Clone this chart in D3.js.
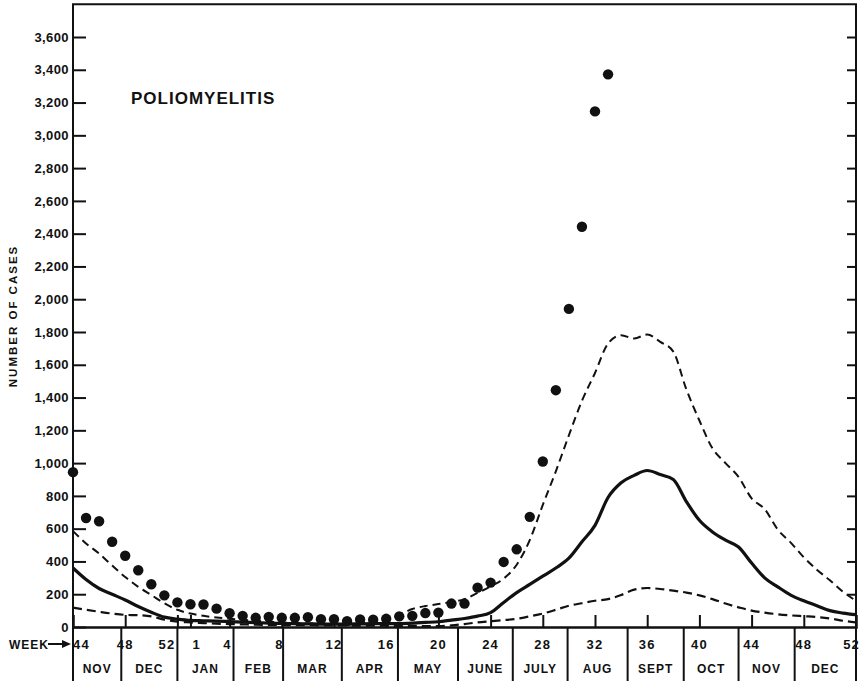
<!DOCTYPE html>
<html>
<head>
<meta charset="utf-8">
<script src="https://cdn.jsdelivr.net/npm/d3@7"></script>
<style>
  body { margin: 0; background: #fff; }
  text { font-family: "Liberation Sans", Arial, sans-serif; font-weight: bold; fill: #111; }
</style>
</head>
<body>
<div id="chart"></div>
<script>
/* Poliomyelitis weekly cases, week 44 to week 52 of the next year */

// week index 0 = week 44 of first year, 60 = week 52 of second year
const weekLabels = ["44", "48", "52", "1", "4", "8", "12", "16", "20", "24", "28", "32", "36", "40", "44", "48", "52"];
const weekLabelIdx = [0, 4, 8, 9, 12, 16, 20, 24, 28, 32, 36, 40, 44, 48, 52, 56, 60];
const months = ["NOV", "DEC", "JAN", "FEB", "MAR", "APR", "MAY", "JUNE", "JULY", "AUG", "SEPT", "OCT", "NOV", "DEC"];
const monthEdges = [0, 3.7, 8, 12.3, 16.1, 20.6, 24.9, 29.5, 33.7, 37.9, 42.5, 46.8, 51, 55.3, 60];
const yTickValues = [0, 200, 400, 600, 800, 1000, 1200, 1400, 1600, 1800, 2000, 2200, 2400, 2600, 2800, 3000, 3200, 3400, 3600];

// upper dashed curve
const upper = [585, 510, 448, 375, 305, 245, 195, 145, 105, 82,
               68, 58, 50, 44, 38, 32, 28, 24, 22, 20,
               20, 22, 25, 38, 55, 75, 110, 128, 140, 152,
               170, 208, 248, 295, 380, 530, 745, 950, 1170, 1380,
               1550, 1730, 1780, 1760, 1785, 1740, 1680, 1450, 1260, 1090,
               1000, 916, 785, 720, 595, 515, 425, 350, 285, 215, 160];
// solid (median) curve
const median = [360, 290, 235, 200, 165, 125, 90, 60, 48, 40,
                38, 36, 33, 30, 27, 24, 22, 20, 19, 18,
                18, 18, 19, 20, 20, 21, 24, 28, 32, 42,
                52, 66, 88, 150, 210, 260, 310, 360, 420, 520,
                620, 790, 880, 925, 955, 930, 900, 765, 651, 580,
                530, 488, 390, 300, 245, 195, 160, 130, 100, 85, 75];
// lower dashed curve
const lower = [118, 105, 93, 82, 74, 72, 65, 45, 33, 28,
               24, 20, 18, 16, 14, 13, 12, 12, 11, 10,
               10, 9, 9, 8, 8, 7, 7, 6, 6, 10,
               18, 28, 35, 42, 50, 65, 82, 105, 130, 145,
               160, 170, 195, 228, 238, 232, 222, 210, 193, 170,
               143, 120, 100, 88, 78, 71, 66, 61, 52, 38, 28];
// current year, dots (week 44 .. week 33)
const current = [945, 665, 645, 520, 435, 346, 261, 193, 150, 139,
                 137, 112, 84, 68, 56, 62, 56, 56, 60, 48,
                 48, 36, 46, 45, 50, 65, 68, 85, 88, 143,
                 143, 240, 271, 397, 474, 672, 1010, 1445, 1941, 2442,
                 3146, 3372];

const width = 866, height = 683,
      margin = ({top: 4, right: 10, bottom: 56, left: 73});

const svg = d3.select("#chart")
    .append("svg")
    .attr("width", width)
    .attr("height", height)
    .attr("viewBox", [0, 0, width, height]);

svg.append("rect").attr("width", width).attr("height", height).attr("fill", "#fff");

let x = d3.scaleLinear()
    .domain([0, 60])
    .range([margin.left, width - margin.right]);

let y = d3.scaleLinear()
    .domain([0, 3600])
    .range([height - margin.bottom, 37]);

const base = y(0);
const frameTop = y(3800);

// frame
svg.append("path")
    .attr("d", `M${x(0)},${base}V${frameTop}H${x(60)}V${base}`)
    .attr("fill", "none")
    .attr("stroke", "#111")
    .attr("stroke-width", 2);

const yAxis = g => g
    .attr("transform", `translate(${x(0)},0)`)
    .call(d3.axisLeft(y).tickValues(yTickValues).tickSize(-13).tickPadding(4).tickFormat(d3.format(",")))
    .call(g => g.select(".domain").remove())
    .call(g => g.selectAll("line").attr("stroke", "#111").attr("stroke-width", 2))
    .call(g => g.selectAll("text").attr("font-size", 13).attr("letter-spacing", 0.4).attr("fill", "#111"));

const yAxisRight = g => g
    .attr("transform", `translate(${x(60)},0)`)
    .call(d3.axisRight(y).tickValues(yTickValues.slice(1)).tickSize(-9).tickFormat(""))
    .call(g => g.select(".domain").remove())
    .call(g => g.selectAll("line").attr("stroke", "#111").attr("stroke-width", 2));

const xAxis = g => g
    .attr("transform", `translate(0,${base})`)
    .call(d3.axisBottom(x).tickValues(weekLabelIdx.slice(1, -1)).tickSize(-12).tickFormat(""))
    .call(g => g.select(".domain").attr("stroke", "#111").attr("stroke-width", 2.5))
    .call(g => g.selectAll("line").attr("stroke", "#111").attr("stroke-width", 2));

svg.append("g").call(yAxis);
svg.append("g").call(yAxisRight);
svg.append("g").call(xAxis);

// week numbers under the axis
const anchorFor = i => i === 0 ? "start" : (i === 2 || i === 4 || i === 5) ? "end" : (i === 3) ? "start" : (i === weekLabels.length - 1) ? "end" : "middle";
const dxFor = i => i === 0 ? 0 : (i === 2) ? -2 : (i === 3) ? 2 : (i === 4 || i === 5) ? 2 : (i === weekLabels.length - 1) ? 4 : 0;

svg.append("g")
    .selectAll("text")
    .data(weekLabels)
    .join("text")
    .attr("x", (d, i) => x(weekLabelIdx[i]) + dxFor(i))
    .attr("y", base + 22)
    .attr("text-anchor", (d, i) => anchorFor(i))
    .attr("font-size", 13)
    .attr("letter-spacing", 1.2)
    .text(d => d);

// WEEK -> marker
svg.append("text")
    .attr("x", 9)
    .attr("y", base + 22)
    .attr("font-size", 12)
    .attr("letter-spacing", 1)
    .text("WEEK");
svg.append("path")
    .attr("d", `M48,${base + 17}H64`)
    .attr("stroke", "#111")
    .attr("stroke-width", 2);
svg.append("path")
    .attr("d", `M62,${base + 13}L71,${base + 17}L62,${base + 21}Z`)
    .attr("fill", "#111");

// month separators and names
svg.append("g")
    .selectAll("line")
    .data(monthEdges)
    .join("line")
    .attr("x1", d => x(d))
    .attr("x2", d => x(d))
    .attr("y1", base)
    .attr("y2", base + 54)
    .attr("stroke", "#111")
    .attr("stroke-width", 2);

svg.append("g")
    .selectAll("text")
    .data(months)
    .join("text")
    .attr("x", (d, i) => (x(monthEdges[i]) + x(monthEdges[i + 1])) / 2)
    .attr("y", base + 46)
    .attr("text-anchor", "middle")
    .attr("font-size", 12)
    .attr("letter-spacing", 1)
    .text(d => d);

// axis title and chart title
svg.append("text")
    .attr("transform", "translate(17,316) rotate(-90)")
    .attr("text-anchor", "middle")
    .attr("font-size", 11.5)
    .attr("letter-spacing", 2)
    .text("NUMBER OF CASES");

svg.append("text")
    .attr("x", 131)
    .attr("y", 104)
    .attr("font-size", 17)
    .attr("letter-spacing", 1)
    .text("POLIOMYELITIS");

// curves
const line = d3.line()
    .x((d, i) => x(i))
    .y(d => y(d))
    .curve(d3.curveMonotoneX);

svg.append("path")
    .datum(upper)
    .attr("fill", "none")
    .attr("stroke", "#111")
    .attr("stroke-width", 2)
    .attr("stroke-dasharray", "8,5")
    .attr("d", line);

svg.append("path")
    .datum(lower)
    .attr("fill", "none")
    .attr("stroke", "#111")
    .attr("stroke-width", 2.2)
    .attr("stroke-dasharray", "9,5")
    .attr("d", line);

svg.append("path")
    .datum(median)
    .attr("fill", "none")
    .attr("stroke", "#111")
    .attr("stroke-width", 3.2)
    .attr("d", line);

svg.selectAll(".dot")
    .data(current)
    .join("circle")
    .attr("class", "dot")
    .attr("cx", (d, i) => x(i))
    .attr("cy", d => y(d))
    .attr("r", 5.2)
    .attr("fill", "#111");
</script>
</body>
</html>
